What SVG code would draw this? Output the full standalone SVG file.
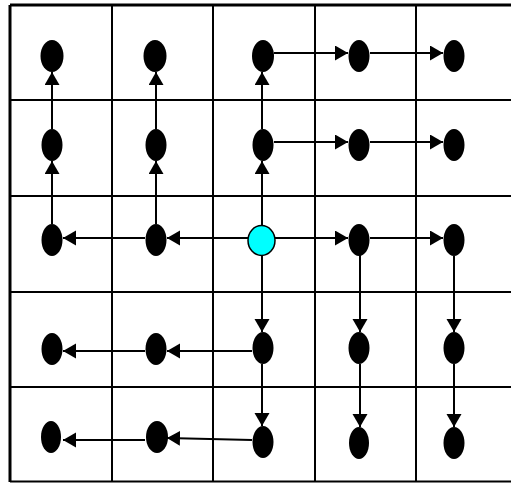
<svg xmlns="http://www.w3.org/2000/svg" width="511" height="483" viewBox="0 0 511 483">
<style>
.grid{stroke:#000;stroke-width:2;fill:none}
.outer{stroke:#000;stroke-width:3;fill:none}
.node{fill:#000}
.c{stroke:#000;stroke-width:2;fill:none;marker-end:url(#ah)}
</style>
<defs>
<marker id="ah" markerUnits="userSpaceOnUse" markerWidth="14" markerHeight="16" refX="13" refY="7.5" orient="auto" viewBox="0 0 14 16">
<path d="M0,0 L13,7.5 L0,15 z" fill="#000"/>
</marker>
</defs>
<rect width="511" height="483" fill="#fff"/>
<g id="grid">
<line class="grid" x1="112" y1="5" x2="112" y2="482"/>
<line class="grid" x1="213" y1="5" x2="213" y2="482"/>
<line class="grid" x1="315" y1="5" x2="315" y2="482"/>
<line class="grid" x1="416" y1="5" x2="416" y2="482"/>
<line class="grid" x1="10" y1="100" x2="511" y2="100"/>
<line class="grid" x1="10" y1="196" x2="511" y2="196"/>
<line class="grid" x1="10" y1="292" x2="511" y2="292"/>
<line class="grid" x1="10" y1="387" x2="511" y2="387"/>
<line class="outer" x1="10" y1="5" x2="511" y2="5"/>
<line class="outer" x1="10" y1="5" x2="10" y2="482"/>
<line class="grid" x1="10" y1="481.5" x2="511" y2="481.5"/>
</g>
<g id="connectors">
<line class="c" x1="52" y1="224" x2="52" y2="161"/>
<line class="c" x1="52" y1="129" x2="52" y2="72"/>
<line class="c" x1="156" y1="224" x2="156" y2="161"/>
<line class="c" x1="156" y1="129" x2="156" y2="72"/>
<line class="c" x1="262" y1="225" x2="262" y2="161"/>
<line class="c" x1="262" y1="129" x2="262" y2="72"/>
<line class="c" x1="274" y1="53" x2="348" y2="53"/>
<line class="c" x1="370" y1="53" x2="443" y2="53"/>
<line class="c" x1="274" y1="142" x2="348" y2="142"/>
<line class="c" x1="370" y1="142" x2="443" y2="142"/>
<line class="c" x1="275" y1="238" x2="348" y2="238"/>
<line class="c" x1="370" y1="238" x2="443" y2="238"/>
<line class="c" x1="248" y1="238" x2="167" y2="238"/>
<line class="c" x1="145" y1="238" x2="63" y2="238"/>
<line class="c" x1="262" y1="256" x2="262" y2="332"/>
<line class="c" x1="262" y1="364" x2="262" y2="426"/>
<line class="c" x1="252" y1="351" x2="167" y2="351"/>
<line class="c" x1="145" y1="351" x2="63" y2="351"/>
<line class="c" x1="252" y1="440" x2="167" y2="438"/>
<line class="c" x1="145" y1="440" x2="63" y2="440"/>
<line class="c" x1="360" y1="254" x2="360" y2="332"/>
<line class="c" x1="360" y1="364" x2="360" y2="427"/>
<line class="c" x1="454" y1="256" x2="454" y2="332"/>
<line class="c" x1="454" y1="364" x2="454" y2="427"/>
</g>
<g id="n11"><ellipse class="node" cx="52" cy="56" rx="11.5" ry="16"/></g>
<g id="n12"><ellipse class="node" cx="155" cy="56" rx="11.5" ry="16"/></g>
<g id="n13"><ellipse class="node" cx="263" cy="56" rx="11" ry="16"/></g>
<g id="n14"><ellipse class="node" cx="359" cy="56" rx="10.5" ry="16"/></g>
<g id="n15"><ellipse class="node" cx="454" cy="56" rx="10.5" ry="16"/></g>
<g id="n21"><ellipse class="node" cx="52" cy="145" rx="10.5" ry="16"/></g>
<g id="n22"><ellipse class="node" cx="156" cy="145" rx="10.5" ry="16"/></g>
<g id="n23"><ellipse class="node" cx="263" cy="145" rx="10.5" ry="16"/></g>
<g id="n24"><ellipse class="node" cx="359" cy="145" rx="10.5" ry="16"/></g>
<g id="n25"><ellipse class="node" cx="454" cy="145" rx="10.5" ry="16"/></g>
<g id="n31"><ellipse class="node" cx="52" cy="240" rx="10.5" ry="16"/></g>
<g id="n32"><ellipse class="node" cx="156" cy="240" rx="10.5" ry="16"/></g>
<g id="n33"><ellipse cx="261.5" cy="240.5" rx="13.5" ry="15" fill="#00ffff" stroke="#000" stroke-width="1.5"/></g>
<g id="n34"><ellipse class="node" cx="359" cy="240" rx="10.5" ry="16"/></g>
<g id="n35"><ellipse class="node" cx="454" cy="240" rx="10.5" ry="16"/></g>
<g id="n41"><ellipse class="node" cx="52" cy="349" rx="10.5" ry="16"/></g>
<g id="n42"><ellipse class="node" cx="156" cy="349" rx="10.5" ry="16"/></g>
<g id="n43"><ellipse class="node" cx="263" cy="348" rx="10.5" ry="16"/></g>
<g id="n44"><ellipse class="node" cx="359" cy="348" rx="10.5" ry="16"/></g>
<g id="n45"><ellipse class="node" cx="454" cy="348" rx="10.5" ry="16"/></g>
<g id="n51"><ellipse class="node" cx="51" cy="437" rx="10" ry="16"/></g>
<g id="n52"><ellipse class="node" cx="157" cy="437" rx="11" ry="16"/></g>
<g id="n53"><ellipse class="node" cx="263" cy="442" rx="10.5" ry="16"/></g>
<g id="n54"><ellipse class="node" cx="359" cy="443" rx="10" ry="16"/></g>
<g id="n55"><ellipse class="node" cx="454" cy="443" rx="10.5" ry="16"/></g>
</svg>
